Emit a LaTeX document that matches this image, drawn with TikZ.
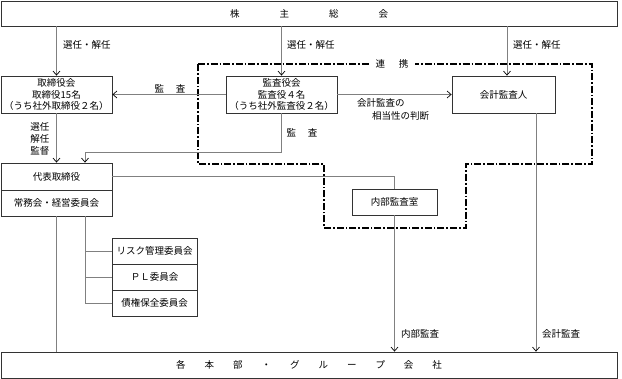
\documentclass[tikz,border=0pt]{standalone}
\usepackage{fontspec}
\setmainfont{Noto Sans CJK JP}
\usetikzlibrary{arrows.meta,calc}
\definecolor{boxline}{HTML}{333333}
\definecolor{connline}{HTML}{808080}
\tikzset{
  box/.style={draw=boxline, line width=0.8pt, fill=white, inner sep=0pt, align=center, font=\fontsize{9.5}{11.5}\selectfont},
  conn/.style={draw=connline, line width=0.8pt},
  arr/.style={conn, -{Straight Barb[length=4pt,width=7pt,black,line width=0.7pt]}},
  lbl/.style={inner sep=0pt, font=\fontsize{9.5}{12}\selectfont, align=left},
  coop/.style={draw=black, line width=1.6pt, dash pattern=on 7pt off 2pt on 1.6pt off 2pt},
}
\begin{document}
\begin{tikzpicture}[x=1pt,y=-1pt]
\useasboundingbox (0,0) rectangle (622,379);
% cooperation boundary
\draw[coop] (198,64) -- (592,64) -- (592,164) -- (466,164) -- (466,228) -- (324,228) -- (324,164) -- (198,164) -- cycle;
\node[lbl, fill=white, inner xsep=6pt, inner ysep=2pt] (coopl) at (392,64) {連\hspace{14pt}携};
% boxes
\node[box, minimum width=616pt, minimum height=25pt] (gm) at (309,13.5) {株\hspace{40pt}主\hspace{40pt}総\hspace{40pt}会};
\node[box, minimum width=111pt, minimum height=37pt] (tb) at (56.5,94.5) {取締役会\\取締役15名\\（うち社外取締役２名）};
\node[box, minimum width=111pt, minimum height=37pt] (kb) at (281.5,94.5) {監査役会\\監査役４名\\（うち社外監査役２名）};
\node[box, minimum width=103pt, minimum height=37pt] (ka) at (503.5,94.5) {会計監査人};
\node[box, minimum width=111pt, minimum height=27pt] (rep) at (56.5,176.5) {代表取締役};
\node[box, minimum width=111pt, minimum height=26pt] (jm) at (56.5,203) {常務会・経営委員会};
\node[box, minimum width=85pt, minimum height=26pt] (na) at (394.5,202) {内部監査室};
\node[box, minimum width=85pt, minimum height=26pt] (c1) at (154.5,251) {リスク管理委員会};
\node[box, minimum width=85pt, minimum height=26pt] (c2) at (154.5,277) {ＰＬ委員会};
\node[box, minimum width=85pt, minimum height=26pt] (c3) at (154.5,303) {債権保全委員会};
\node[box, minimum width=616pt, minimum height=26pt] (bt) at (309,365) {各\hspace{19pt}本\hspace{19pt}部\hspace{19pt}・\hspace{19pt}グ\hspace{19pt}ル\hspace{19pt}ー\hspace{19pt}プ\hspace{19pt}会\hspace{19pt}社};
% connectors
\draw[arr] (tb.north |- gm.south) -- (tb.north);
\draw[arr] (kb.north |- gm.south) -- (kb.north);
\coordinate (kaIn) at ([xshift=3.5pt]ka.north);
\draw[arr] (kaIn |- gm.south) -- (kaIn);
\draw[arr] (kb.west) -- (tb.east);
\draw[arr] (kb.east) -- (ka.west);
\draw[arr] (tb.south) -- (rep.north);
\coordinate (repIn) at ([xshift=28.5pt]rep.north);
\draw[arr] (kb.south) -- (kb.south |- 0,152) -| (repIn);
\draw[conn] (rep.east) -| (na.north);
\draw[arr] (na.south) -- (na.south |- bt.north);
\coordinate (kaOut) at ([xshift=32.5pt]ka.south);
\draw[arr] (kaOut) -- (kaOut |- bt.north);
\draw[conn] (jm.south) -- (bt.north -| jm.south);
\coordinate (jmOut) at ([xshift=28.5pt]jm.south);
\draw[conn] (jmOut) -- (jmOut |- c3.west) -- (c3.west);
\draw[conn] (jmOut |- c1.west) -- (c1.west);
\draw[conn] (jmOut |- c2.west) -- (c2.west);
% labels
\node[lbl, anchor=west] (l1) at (63,45) {選任・解任};
\node[lbl, anchor=west] (l2) at (287,45) {選任・解任};
\node[lbl, anchor=west] (l3) at (513,45) {選任・解任};
\node[lbl] (l4) at (170,88.5) {監\hspace{12pt}査};
\node[lbl, align=center, font=\fontsize{9.5}{12}\selectfont] (l5) at (40,139) {選任\\解任\\監督};
\node[lbl] (l6) at (302,133) {監\hspace{12pt}査};
\node[lbl, anchor=west] (l7) at (357,103) {会計監査の};
\node[lbl, anchor=west] (l8) at (372,115.5) {相当性の判断};
\node[lbl, anchor=west] (l9) at (401,334) {内部監査};
\node[lbl, anchor=west] (l10) at (542,334) {会計監査};
\end{tikzpicture}
\end{document}
